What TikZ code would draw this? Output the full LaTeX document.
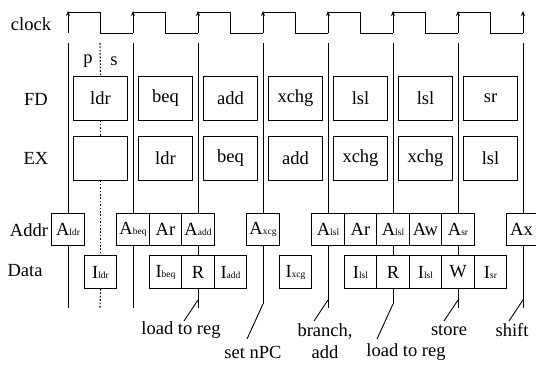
\documentclass[tikz,border=0pt]{standalone}
\usepackage{fontspec}
\setmainfont{Liberation Serif}
\usetikzlibrary{arrows.meta}
\newcommand{\sbs}[1]{{\fontsize{9.5}{10}\selectfont #1}}
\begin{document}
\begin{tikzpicture}[x=1pt,y=-1pt,line width=0.9pt,
  every node/.style={font=\fontsize{18.5}{20}\selectfont,inner sep=0pt},
  bigbox/.style={draw,minimum width=54pt,minimum height=44pt},
  cell/.style={draw,minimum width=32.5pt,minimum height=32pt},
  dotln/.style={dash pattern=on 1.6pt off 1.8pt,line width=1.1pt},
  clk/.style={-{Stealth[length=5pt,width=4pt]}}]
\useasboundingbox (0,0) rectangle (536,366);
% row labels
\node (lclock) at (31,24) {clock};
\node (lfd) at (36,99) {FD};
\node (lex) at (36,158) {EX};
\node (laddr) at (29,230) {Addr};
\node (ldata) at (25,271) {Data};
\node (lp) at (88,61) {p};
\node (ls) at (114,61) {s};
% clock
\foreach \k in {0,...,7} {\draw[clk] (68+65*\k,33) -- (68+65*\k,11);}
\foreach \k in {0,...,6} {\draw (68+65*\k,12) -- ++(32.5,0) -- ++(0,21) -- ++(32.5,0);}
% FD and EX rows
\foreach \i/\t in {0/ldr,1/beq,2/add,3/xchg,4/lsl,5/lsl,6/sr}
  {\node[bigbox] (fd\i) at (100.5+65*\i,98) {\t};}
\foreach \i/\t in {0/,1/ldr,2/beq,3/add,4/xchg,5/xchg,6/lsl}
  {\node[bigbox] (ex\i) at (100.5+65*\i,158) {\t};}
% Addr row
\node[cell] (aldr) at (68,229) {A\sbs{ldr}};
\node[cell] (abeq) at (133,229) {A\sbs{beq}};
\node[cell] (ara) at (165.5,229) {Ar};
\node[cell] (aadd) at (198,229) {A\sbs{add}};
\node[cell] (axcg) at (263,229) {A\sbs{xcg}};
\node[cell] (alsla) at (328,229) {A\sbs{lsl}};
\node[cell] (arb) at (360.5,229) {Ar};
\node[cell] (alslb) at (393,229) {A\sbs{lsl}};
\node[cell] (aw) at (425.5,229) {Aw};
\node[cell] (asr) at (458,229) {A\sbs{sr}};
\begin{scope}
\clip (0,0) rectangle (536,366);
\node[cell] (ax) at (523,229) {\hspace*{-3pt}Ax};
\end{scope}
% Data row
\node[cell,minimum height=33pt] (dldr) at (100.5,272) {I\sbs{ldr}};
\node[cell,minimum height=33pt] (dbeq) at (165.5,272) {I\sbs{beq}};
\node[cell,minimum height=33pt] (dra) at (198,272) {R};
\node[cell,minimum height=33pt] (dadd) at (230.5,272) {I\sbs{add}};
\node[cell,minimum height=33pt] (dxcg) at (295.5,272) {I\sbs{xcg}};
\node[cell,minimum height=33pt] (dlsla) at (360.5,272) {I\sbs{lsl}};
\node[cell,minimum height=33pt] (drb) at (393,272) {R};
\node[cell,minimum height=33pt] (dlslb) at (425.5,272) {I\sbs{lsl}};
\node[cell,minimum height=33pt] (dw) at (458,272) {W};
\node[cell,minimum height=33pt] (dsr) at (490.5,272) {I\sbs{sr}};
% bottom labels
\node (lload1) at (181,330) {load to reg};
\node (lnpc) at (253,352) {set nPC};
\node[align=center] (lbranch) at (325,341) {branch,\\[2pt]add};
\node (lload2) at (406,352) {load to reg};
\node (lstore) at (449,330) {store};
\node (lshift) at (512,330) {shift};
% cycle boundary coordinates
\foreach \k in {0,...,7} {\coordinate (t\k) at (68+65*\k,43);}
\foreach \k in {0,...,7} {\coordinate (b\k) at (68+65*\k,308);}
\coordinate (dt) at (100,43);
\coordinate (db) at (100,308);
% vertical lines
\draw (t0) -- (aldr.north); \draw (aldr.south) -- (b0);
\draw[dotln] (dt) -- (fd0.north);
\draw[dotln] (fd0.south) -- (ex0.north);
\draw[dotln] (ex0.south) -- (dldr.north);
\draw[dotln] (dldr.south) -- (db);
\draw (t1) -- (abeq.north); \draw (abeq.south) -- (b1);
\draw (t2) -- (aadd.north); \draw (aadd.south) -- (dra.north); \draw (dra.south) -- (b2);
\coordinate (c3) at (263,304);
\draw (t3) -- (axcg.north); \draw (axcg.south) -- (c3);
\draw (t4) -- (alsla.north); \draw (alsla.south) -- (b4);
\coordinate (c5) at (393,304);
\draw (t5) -- (alslb.north); \draw (alslb.south) -- (drb.north); \draw (drb.south) -- (c5);
\draw (t6) -- (asr.north); \draw (asr.south) -- (dw.north); \draw (dw.south) -- (b6);
\draw (t7) -- (ax.north); \draw (ax.south) -- (b7);
% pointers
\coordinate (s2) at (198,300); \coordinate (e2) at (184,321);
\coordinate (s4) at (328,300); \coordinate (e4) at (314,321);
\coordinate (s6) at (458,300); \coordinate (e6) at (444,321);
\coordinate (s7) at (523,300); \coordinate (e7) at (509,321);
\coordinate (e3) at (247,339);
\coordinate (e5) at (377,339);
\draw (s2) -- (e2);
\draw (s4) -- (e4);
\draw (s6) -- (e6);
\draw (s7) -- (e7);
\draw (c3) -- (e3);
\draw (c5) -- (e5);
\end{tikzpicture}
\end{document}
